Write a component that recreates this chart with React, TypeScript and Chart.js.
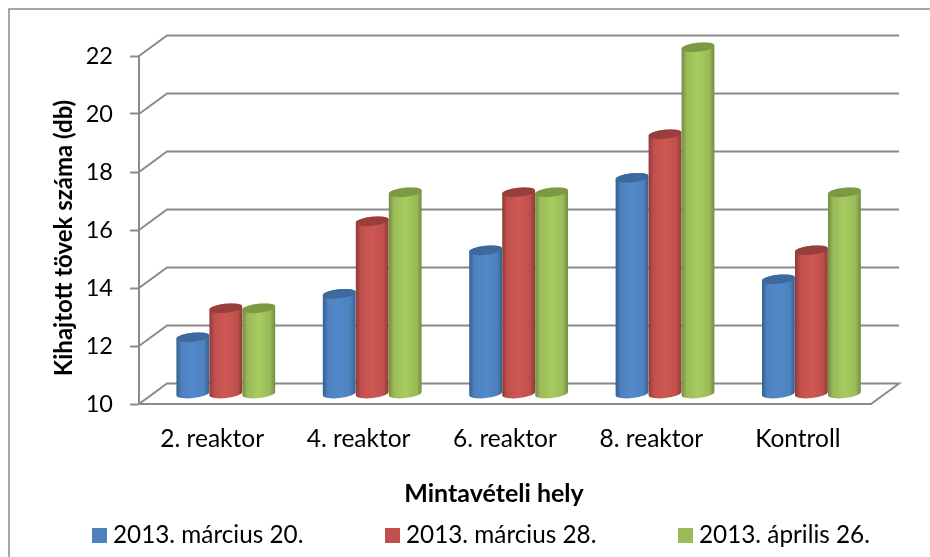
import React, { useEffect, useRef } from "react";
import { Chart, registerables } from "chart.js";

Chart.register(...registerables);

const categories = ["2. reaktor", "4. reaktor", "6. reaktor", "8. reaktor", "Kontroll"];
const seriesNames = ["2013. március 20.", "2013. március 28.", "2013. április 26."];
const march20 = [12, 13.5, 15, 17.5, 14];
const march28 = [13, 16, 17, 19, 15];
const april26 = [13, 17, 17, 22, 17];
const yTicks = [10, 12, 14, 16, 18, 20, 22];
const xTitle = "Mintavételi hely";
const yTitle = "Kihajtott tövek száma (db)";

const FONT = "Lato, sans-serif";
const AXIS = "#8a8a8a";
const palettes = [
  { solid: "#4f81bd", edge: "#34608f", mid: "#5289cc", top: "#3d6a9c" },
  { solid: "#c0504d", edge: "#8f3a38", mid: "#cf5854", top: "#983f3c" },
  { solid: "#9bbb59", edge: "#728c40", mid: "#a6cc5e", top: "#7c9a44" },
];
const DX = 28;
const DY = 20.5;

const wall = {
  id: "wall",
  beforeDatasetsDraw(chart: any) {
    const { ctx, chartArea: a } = chart;
    const y = chart.scales.y;
    ctx.save();
    ctx.strokeStyle = AXIS;
    ctx.lineWidth = 2;
    for (const t of y.ticks) {
      const p = y.getPixelForValue(t.value);
      ctx.beginPath();
      ctx.moveTo(a.left, p);
      ctx.lineTo(a.left + DX, p - DY);
      ctx.lineTo(a.right + DX, p - DY);
      if (t.value === 10) ctx.lineTo(a.right, p);
      ctx.stroke();
    }
    ctx.restore();
  },
};

const frame = {
  id: "frame",
  beforeDraw(chart: any) {
    const { ctx } = chart;
    ctx.save();
    ctx.strokeStyle = "#8a8a8a";
    ctx.lineWidth = 1.5;
    ctx.strokeRect(9, 9, 1000, 600);
    ctx.restore();
  },
};

const cylinders = {
  id: "cylinders",
  afterDatasetsDraw(chart: any) {
    const { ctx } = chart;
    const yScale = chart.scales.y;
    const rot = (-6 * Math.PI) / 180;
    chart.data.datasets.forEach((_: any, i: number) => {
      const pal = palettes[i];
      chart.getDatasetMeta(i).data.forEach((bar: any) => {
        const rx = bar.width / 2;
        const ry = 4.6;
        const cx = bar.x + 13.6;
        const ty = bar.y - 8.7;
        const by = yScale.getPixelForValue(yScale.min) - 10.5;
        const g = ctx.createLinearGradient(cx - rx, 0, cx + rx, 0);
        g.addColorStop(0, pal.edge);
        g.addColorStop(0.16, pal.solid);
        g.addColorStop(0.5, pal.mid);
        g.addColorStop(0.84, pal.solid);
        g.addColorStop(1, pal.edge);
        ctx.save();
        ctx.fillStyle = g;
        ctx.beginPath();
        ctx.ellipse(cx, by, rx, ry, rot, 0, Math.PI);
        ctx.ellipse(cx, ty, rx, ry, rot, Math.PI, 2 * Math.PI);
        ctx.closePath();
        ctx.fill();
        ctx.fillStyle = pal.top;
        ctx.beginPath();
        ctx.ellipse(cx, ty, rx, ry, rot, 0, 2 * Math.PI);
        ctx.fill();
        ctx.restore();
      });
    });
  },
};

const textRow = {
  id: "textRow",
  afterDraw(chart: any) {
    const { ctx } = chart;
    const starts = [92, 385, 678];
    ctx.save();
    ctx.font = `24.3px ${FONT}`;
    ctx.textBaseline = "middle";
    ctx.textAlign = "left";
    seriesNames.forEach((name, i) => {
      ctx.fillStyle = palettes[i].solid;
      ctx.fillRect(starts[i], 528, 15, 15);
      ctx.fillStyle = "#000";
      ctx.fillText(name, starts[i] + 21, 535);
    });
    ctx.fillStyle = "#000";
    ctx.textAlign = "center";
    ctx.font = `bold 25px ${FONT}`;
    ctx.fillText(xTitle, 494, 494);
    ctx.font = `bold 24px ${FONT}`;
    ctx.translate(64, 238);
    ctx.rotate(-Math.PI / 2);
    ctx.fillText(yTitle, 0, 0);
    ctx.restore();
  },
};

export default function App() {
  const ref = useRef<HTMLCanvasElement>(null);
  useEffect(() => {
    const chart = new Chart(ref.current!, {
      type: "bar",
      data: {
        labels: categories,
        datasets: [march20, march28, april26].map((data, i) => ({
          label: seriesNames[i],
          data,
          backgroundColor: "rgba(0,0,0,0)",
          borderWidth: 0,
          barPercentage: 1,
          categoryPercentage: 0.676,
        })),
      },
      options: {
        animation: false,
        responsive: false,
        layout: { padding: { left: 0, top: 56, right: 59, bottom: 0 } },
        plugins: {
          tooltip: { enabled: false },
          legend: { display: false },
        },
        scales: {
          x: {
            grid: { display: false },
            border: { color: AXIS, width: 2 },
            ticks: { color: "#000", font: { family: FONT, size: 24.5 }, padding: 12, maxRotation: 0 },
            afterFit(s: any) { s.height = 153; },
          },
          y: {
            min: 10,
            max: 22,
            afterBuildTicks(s: any) { s.ticks = yTicks.map((value) => ({ value })); },
            grid: { drawOnChartArea: false, drawTicks: true, tickLength: 9, tickColor: AXIS, tickWidth: 2 },
            border: { color: AXIS, width: 2 },
            ticks: { color: "#000", font: { family: FONT, size: 23.5 }, padding: 17 },
            afterFit(s: any) { s.width = 139; },
          },
        },
      },
      plugins: [frame, wall, cylinders, textRow],
    } as any);
    return () => chart.destroy();
  }, []);
  return (
    <div style={{ position: "fixed", left: 0, top: 0, width: 930, height: 557, background: "#fff" }}>
      <canvas ref={ref} width={930} height={557} style={{ display: "block" }} />
    </div>
  );
}
